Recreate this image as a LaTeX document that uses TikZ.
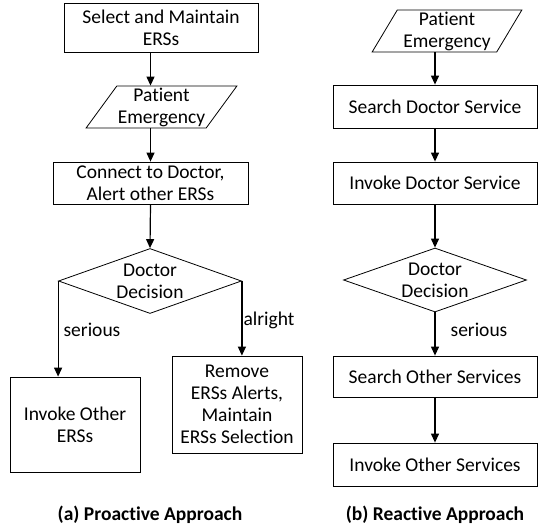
\documentclass[tikz,border=0pt]{standalone}
\usepackage{fontspec}
\setmainfont{Carlito}[Ligatures=NoCommon]
\usetikzlibrary{shapes.geometric,arrows.meta}

\begin{document}
\begin{tikzpicture}[x=1pt,y=-1pt]

    \tikzstyle{box} = [draw, line width=.8pt, align=center, inner sep=1pt,
                       font=\fontsize{19.5}{22}\selectfont]
    \tikzstyle{io} = [box, trapezium, trapezium stretches=true]
    \tikzstyle{dec} = [box, diamond, aspect=2.8, inner sep=0pt]
    \tikzstyle{flow} = [arrows={-Triangle[length=9pt,width=8pt]}, line width=1.2pt]
    \tikzstyle{lbl} = [font=\fontsize{19.5}{22}\selectfont, inner sep=0pt]
    \tikzstyle{caption} = [font=\bfseries\fontsize{19.5}{22}\selectfont, inner sep=0pt]

    \useasboundingbox (0,0) rectangle (538,525);

    % (a) Proactive approach
    \node[box, minimum width=194, minimum height=49] (select) at (161,27.5)
        {Select and Maintain\\ERSs};
    \node[io, trapezium left angle=53, trapezium right angle=127,
          minimum width=151, minimum height=42] (emerga) at (161.5,107)
        {Patient\\Emergency};
    \node[box, minimum width=195, minimum height=42] (connect) at (150.5,183)
        {Connect to Doctor,\\Alert other ERSs};
    \node[dec, minimum width=183, minimum height=65] (decida) at (150,281)
        {Doctor\\Decision};
    \node[box, minimum width=130, minimum height=95] (invers) at (75,424.5)
        {Invoke Other\\ERSs};
    \node[box, minimum width=130, minimum height=97] (remove) at (237,404.5)
        {Remove\\ERSs Alerts,\\Maintain\\ERSs Selection};

    \draw[flow] (select.south -| connect) -- (emerga.north -| connect);
    \draw[flow] (emerga.south -| connect) -- (connect.north);
    \draw[flow] (connect.south) -- (decida.north);
    \draw[flow] (decida.west) -- (invers.north -| decida.west);
    \draw[flow] (decida.east) -- (remove.north -| decida.east);

    \node[lbl] (seriousa) at (92,330) {serious};
    \node[lbl] (alright) at (269,320) {alright};

    \node[caption] (capa) at (150,515) {(a) Proactive Approach};

    % (b) Reactive approach
    \node[io, trapezium left angle=61, trapezium right angle=119,
          minimum width=150, minimum height=42] (emergb) at (447,31)
        {Patient\\Emergency};
    \node[box, minimum width=204, minimum height=43] (searchdoc) at (435,106.5)
        {Search Doctor Service};
    \node[box, minimum width=204, minimum height=42] (invdoc) at (435,183)
        {Invoke Doctor Service};
    \node[dec, minimum width=183, minimum height=64] (decidb) at (435,280)
        {Doctor\\Decision};
    \node[box, minimum width=204, minimum height=41] (searchoth) at (435,376.5)
        {Search Other Services};
    \node[box, minimum width=204, minimum height=43] (invoth) at (435,464.5)
        {Invoke Other Services};

    \draw[flow] (emergb.south -| searchdoc) -- (searchdoc.north);
    \draw[flow] (searchdoc.south) -- (invdoc.north);
    \draw[flow] (invdoc.south) -- (decidb.north);
    \draw[flow] (decidb.south) -- (searchoth.north);
    \draw[flow] (searchoth.south) -- (invoth.north);

    \node[lbl] (seriousb) at (479,330) {serious};

    \node[caption] (capb) at (435,515) {(b) Reactive Approach};

\end{tikzpicture}
\end{document}
